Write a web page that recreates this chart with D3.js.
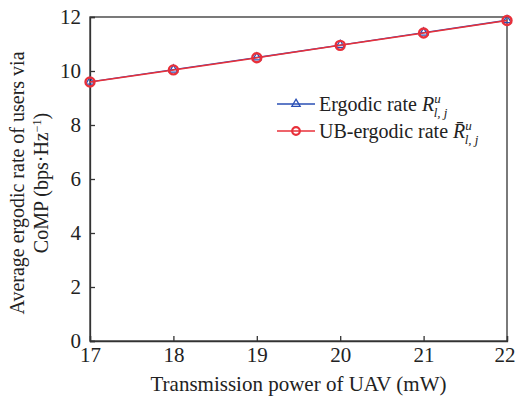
<!DOCTYPE html>
<html>
<head>
<meta charset="utf-8">
<script src="https://cdn.jsdelivr.net/npm/d3@7"></script>
<style>
  body { margin: 0; background: #fff; }
  svg text { font-family: "Liberation Serif", "DejaVu Serif", serif; }
</style>
</head>
<body>
<svg id="chart" width="516" height="396"></svg>
<script>
const powers = [17, 18, 19, 20, 21, 22];
const ergodic = [9.6, 10.05, 10.5, 10.96, 11.42, 11.88];
const ubErgodic = [9.59, 10.04, 10.49, 10.95, 11.41, 11.87];
const xTicks = [17, 18, 19, 20, 21, 22];
const yTicks = [0, 2, 4, 6, 8, 10, 12];

const svg = d3.select("#chart");
const m = { left: 90, right: 9, top: 17, bottom: 55 };
const W = 516, H = 396;

const x = d3.scaleLinear().domain([17, 22]).range([m.left, W - m.right]);
const y = d3.scaleLinear().domain([0, 12]).range([H - m.bottom, m.top]);

const axisColor = "#333";
const serif = "'Liberation Serif', 'DejaVu Serif', serif";

// box
svg.append("rect")
  .attr("x", x(17)).attr("y", y(12))
  .attr("width", x(22) - x(17)).attr("height", y(0) - y(12))
  .attr("fill", "none").attr("stroke", axisColor).attr("stroke-width", 1.3);

const xAxis = svg.append("g")
  .attr("transform", `translate(0,${y(0)})`)
  .call(d3.axisBottom(x).tickValues(xTicks).tickSize(-5).tickPadding(6).tickFormat(d3.format("d")));
const yAxis = svg.append("g")
  .attr("transform", `translate(${x(17)},0)`)
  .call(d3.axisLeft(y).tickValues(yTicks).tickSize(-5).tickPadding(9).tickFormat(d3.format("d")));

[xAxis, yAxis].forEach(g => {
  g.select(".domain").attr("stroke", axisColor).attr("stroke-width", 1.3);
  g.selectAll(".tick line").attr("stroke", axisColor).attr("stroke-width", 1.3);
  g.selectAll(".tick text").attr("fill", "#222").style("font-size", "21px")
    .style("font-family", serif);
});
// keep the last x label inside the picture
xAxis.selectAll(".tick text").filter(d => d === 22).attr("text-anchor", "end").attr("dx", 8);

// axis labels
svg.append("text")
  .attr("x", (x(17) + x(22)) / 2).attr("y", 391)
  .attr("text-anchor", "middle").attr("fill", "#222")
  .style("font-size", "21px").style("font-family", serif)
  .text("Transmission power of UAV (mW)");

const yl = svg.append("text")
  .attr("transform", `translate(24,${(y(0) + y(12)) / 2 + 4}) rotate(-90)`)
  .attr("text-anchor", "middle").attr("fill", "#222")
  .style("font-size", "20px").style("font-family", serif);
yl.append("tspan").attr("x", 0).attr("dy", 0).text("Average ergodic rate of users via");
const l2 = yl.append("tspan").attr("x", 0).attr("dy", 24);
l2.append("tspan").text("CoMP (bps·Hz");
l2.append("tspan").attr("dy", -7).style("font-size", "12px").text("−1");
l2.append("tspan").attr("dy", 7).text(")");

// lines
const line = d3.line().x((d, i) => x(powers[i])).y(d => y(d));
const blue = "#2a4fb5", red = "#e8303a";

svg.append("path").datum(ergodic).attr("d", line)
  .attr("fill", "none").attr("stroke", blue).attr("stroke-width", 1.3);
const tri = d3.symbol().type(d3.symbolTriangle).size(30);
svg.selectAll(".tri").data(ergodic).join("path")
  .attr("transform", (d, i) => `translate(${x(powers[i])},${y(d)})`)
  .attr("d", tri).attr("fill", "none").attr("stroke", blue).attr("stroke-width", 1.3);

svg.append("path").datum(ubErgodic).attr("d", line)
  .attr("fill", "none").attr("stroke", red).attr("stroke-width", 1.5);
svg.selectAll(".circ").data(ubErgodic).join("circle")
  .attr("cx", (d, i) => x(powers[i])).attr("cy", d => y(d)).attr("r", 4.5)
  .attr("fill", "none").attr("stroke", red).attr("stroke-width", 2.4);

// legend
const lg = svg.append("g").attr("transform", "translate(277,104)");
lg.append("line").attr("x1", 0).attr("x2", 38).attr("y1", 0).attr("y2", 0)
  .attr("stroke", blue).attr("stroke-width", 1.3);
lg.append("path").attr("transform", "translate(19,0)").attr("d", tri)
  .attr("fill", "none").attr("stroke", blue).attr("stroke-width", 1.3);
lg.append("line").attr("x1", 0).attr("x2", 38).attr("y1", 27).attr("y2", 27)
  .attr("stroke", red).attr("stroke-width", 1.5);
lg.append("circle").attr("cx", 19).attr("cy", 27).attr("r", 3.8)
  .attr("fill", "none").attr("stroke", red).attr("stroke-width", 2.2);

function legendText(yy, bar, label) {
  const t = lg.append("text").attr("x", 42).attr("y", yy + 7).attr("fill", "#222")
    .style("font-size", "20px").style("font-family", serif);
  t.append("tspan").text(label + " ");
  t.append("tspan").style("font-style", "italic").text(bar ? "R̄" : "R");
  t.append("tspan").attr("dy", -8).style("font-size", "13px").style("font-style", "italic").text("u");
  t.append("tspan").attr("dx", -7).attr("dy", 14).style("font-size", "13px").style("font-style", "italic").text("l, j");
}
legendText(0, false, "Ergodic rate");
legendText(27, true, "UB-ergodic rate");
</script>
</body>
</html>
